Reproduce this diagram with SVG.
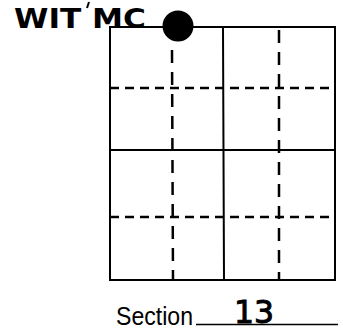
<svg xmlns="http://www.w3.org/2000/svg" width="343" height="333" viewBox="0 0 343 333">
<style>
.solid{stroke:#000;stroke-width:2;fill:none;stroke-linecap:square}
.dh{stroke:#000;stroke-width:2.5;fill:none;stroke-dasharray:9 6}
.dv{stroke:#000;stroke-width:2.5;fill:none;stroke-dasharray:13 9}
.hand{font-family:"DejaVu Sans","Liberation Sans",sans-serif;font-weight:bold;fill:#000}
.num{font-family:"DejaVu Sans","Liberation Sans",sans-serif;font-weight:normal;fill:#000;stroke:#000;stroke-width:1}
.print{font-family:"Liberation Sans",Arial,sans-serif;fill:#000}
</style>
<rect width="343" height="333" fill="#fff"/>
<g id="grid">
<rect class="solid" x="110" y="27" width="225" height="253"/>
<line class="solid" x1="223" y1="27" x2="224" y2="280"/>
<line class="solid" x1="110" y1="150" x2="335" y2="150"/>
<line class="dh" x1="110" y1="88" x2="335" y2="88"/>
<line class="dh" x1="110" y1="217" x2="335" y2="217"/>
<line class="dv" x1="172" y1="50" x2="173" y2="280"/>
<line class="dv" x1="279" y1="30" x2="279" y2="280"/>
</g>
<g id="marker-dot">
<circle cx="178" cy="26" r="15.5" fill="#000"/>
</g>
<g id="label-wit">
<text class="hand" x="14" y="28" font-size="26" textLength="132" lengthAdjust="spacingAndGlyphs">WIT MC</text>
<line x1="89" y1="2" x2="87" y2="8" stroke="#000" stroke-width="2"/>
</g>
<g id="label-section">
<text class="print" x="116" y="325" font-size="26" textLength="77" lengthAdjust="spacingAndGlyphs">Section</text>
<line x1="196" y1="324.5" x2="338" y2="324.5" stroke="#000" stroke-width="1.5"/>
<text class="num" x="234" y="323" font-size="32" textLength="40" lengthAdjust="spacingAndGlyphs">13</text>
</g>
</svg>
